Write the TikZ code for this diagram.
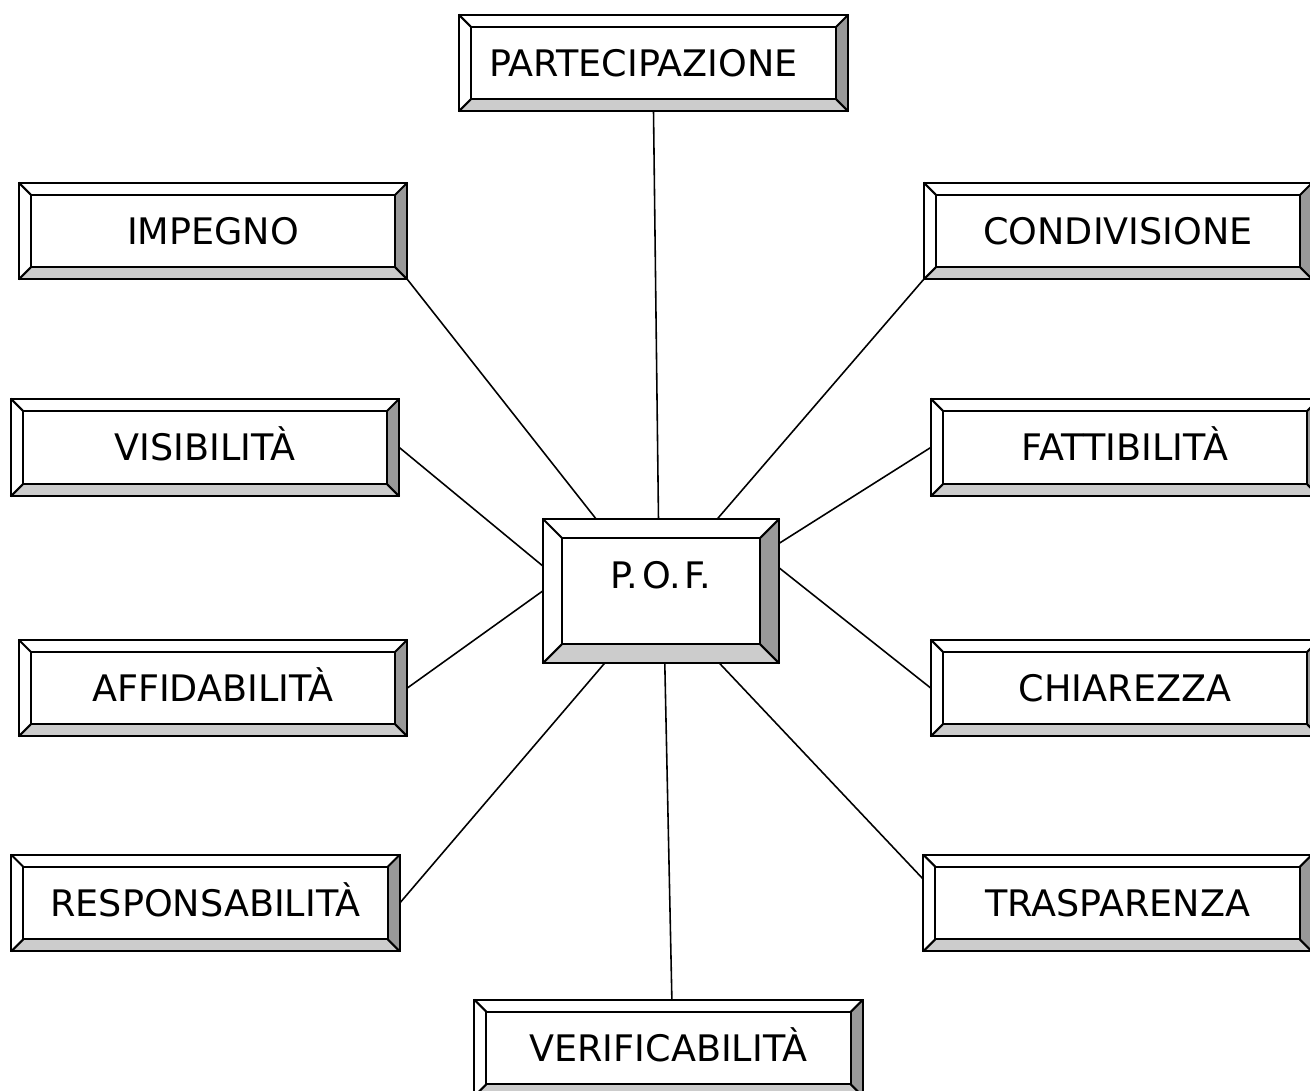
\documentclass[tikz,border=0pt]{standalone}
\usepackage{fontspec}
\setmainfont{DejaVu Sans}
\usetikzlibrary{calc}
\definecolor{bevdark}{HTML}{999999}
\definecolor{bevlight}{HTML}{CCCCCC}
\newcommand{\boxfont}{\fontsize{20.8}{24}\selectfont}
\tikzset{
  keybox/.style={minimum width=7.76cm, minimum height=1.92cm, inner sep=0pt,
    font=\boxfont, text height=0.52cm, text depth=0pt},
  pofbox/.style={minimum width=4.72cm, minimum height=2.88cm, inner sep=0pt,
    font=\boxfont, text height=1.38cm, text depth=1.5cm},
  edge/.style={line width=0.9pt},
  rim/.style={line width=1.2pt, line join=miter}
}
\begin{document}
\begin{tikzpicture}[x=0.02cm, y=-0.02cm]
  \clip (0,0) rectangle (1310,1090);
  \fill[white] (0,0) rectangle (1310,1090);

  \node[keybox, minimum width=7.78cm] (partec) at (653.5,63) {PARTECIPAZIONE\hspace*{0.4cm}\mbox{}};
  \node[keybox] (impegno) at (213,231) {IMPEGNO};
  \node[keybox] (condiv) at (1118,231) {CONDIVISIONE};
  \node[keybox, minimum height=1.94cm] (visib) at (205,447.5) {VISIBILITÀ};
  \node[keybox, minimum height=1.94cm] (fattib) at (1125,447.5) {FATTIBILITÀ};
  \node[keybox] (affid) at (213,688) {AFFIDABILITÀ};
  \node[keybox] (chiar) at (1125,688) {CHIAREZZA};
  \node[keybox] (respons) at (205.5,903) {RESPONSABILITÀ};
  \node[keybox] (trasp) at (1117.5,903) {TRASPARENZA};
  \node[keybox] (verif) at (668.5,1048) {VERIFICABILITÀ};
  \node[pofbox] (pof) at (661,591) {P.\kern0.1em O.\kern0.1em F.};

  \foreach \n/\b in {partec/12, impegno/12, condiv/12, visib/12, fattib/12,
      affid/12, chiar/12, respons/12, trasp/12, verif/12, pof/19} {
    \fill[bevdark] (\n.north east) -- ([shift={(-\b,\b)}]\n.north east)
      -- ([shift={(-\b,-\b)}]\n.south east) -- (\n.south east) -- cycle;
    \fill[bevlight] (\n.south west) -- ([shift={(\b,-\b)}]\n.south west)
      -- ([shift={(-\b,-\b)}]\n.south east) -- (\n.south east) -- cycle;
    \draw[rim] (\n.north west) rectangle (\n.south east);
    \draw[rim] ([shift={(\b,\b)}]\n.north west) rectangle ([shift={(-\b,-\b)}]\n.south east);
    \draw[rim] (\n.north west) -- ([shift={(\b,\b)}]\n.north west);
    \draw[rim] (\n.north east) -- ([shift={(-\b,\b)}]\n.north east);
    \draw[rim] (\n.south east) -- ([shift={(-\b,-\b)}]\n.south east);
    \draw[rim] (\n.south west) -- ([shift={(\b,-\b)}]\n.south west);
  }

  \draw[edge] (partec.south) -- (pof.92);
  \draw[edge] (impegno.south east) -- (pof.132);
  \draw[edge] (condiv.south west) -- (pof.52);
  \draw[edge] (visib.east) -- (pof.168);
  \draw[edge] (fattib.west) -- (pof.22);
  \draw[edge] (affid.east) -- (pof.west);
  \draw[edge] (chiar.west) -- (pof.11);
  \draw[edge] (respons.east) -- (pof.232);
  \draw[edge] (trasp.173) -- (pof.309);
  \draw[edge] (verif.86) -- (pof.273);
\end{tikzpicture}
\end{document}
